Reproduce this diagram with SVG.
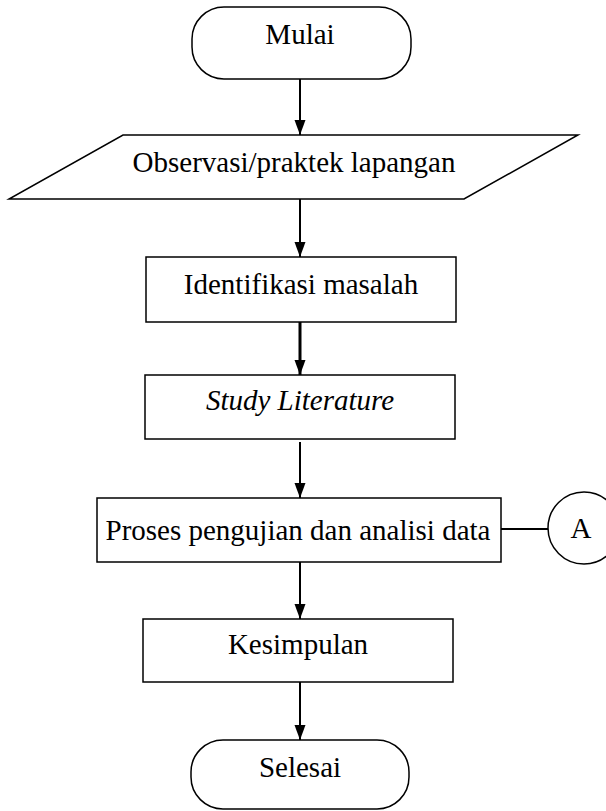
<svg xmlns="http://www.w3.org/2000/svg" width="606" height="811" viewBox="0 0 606 811">
<style>
.shape{fill:#fff;stroke:#000;stroke-width:1.5}
.lbl{font-family:"Liberation Serif","Times New Roman",serif;font-size:29px;fill:#000;text-anchor:middle}
.conn{stroke:#000;stroke-width:2;fill:none}
</style>
<defs>
<marker id="arr" markerUnits="userSpaceOnUse" markerWidth="12" markerHeight="16" refX="6" refY="15" orient="auto-start-reverse" viewBox="0 0 12 16">
<path d="M0,0 L12,0 L6,15 Z" fill="#000" transform="rotate(0)"/>
</marker>
<marker id="arrd" markerUnits="userSpaceOnUse" markerWidth="12" markerHeight="16" refX="6" refY="15" viewBox="0 0 12 16">
<path d="M0.5,0 L11.5,0 L6,15 Z" fill="#000"/>
</marker>
</defs>
<rect width="606" height="811" fill="#fff"/>
<g id="connectors">
<line class="conn" x1="300" y1="79" x2="300" y2="135" marker-end="url(#arrd)"/>
<line class="conn" x1="300" y1="199" x2="300" y2="257" marker-end="url(#arrd)"/>
<line class="conn" x1="300" y1="322" x2="300" y2="375" marker-end="url(#arrd)" style="stroke-width:3"/>
<line class="conn" x1="300" y1="442" x2="300" y2="498" marker-end="url(#arrd)"/>
<line class="conn" x1="300" y1="562" x2="300" y2="619" marker-end="url(#arrd)"/>
<line class="conn" x1="300" y1="682" x2="300" y2="740" marker-end="url(#arrd)"/>
<line class="conn" x1="501" y1="529" x2="548" y2="529"/>
</g>
<g id="mulai">
<rect class="shape" x="192" y="7" width="219" height="72" rx="32" ry="32"/>
<text class="lbl" x="300" y="44">Mulai</text>
</g>
<g id="observasi">
<polygon class="shape" points="123,135 578,135 464,199 9,199"/>
<text class="lbl" x="294" y="172">Observasi/praktek lapangan</text>
</g>
<g id="identifikasi">
<rect class="shape" x="146" y="257" width="310" height="65"/>
<text class="lbl" x="301" y="294">Identifikasi masalah</text>
</g>
<g id="study">
<rect class="shape" x="145" y="375" width="310" height="64"/>
<text class="lbl" x="300" y="410" font-style="italic">Study Literature</text>
</g>
<g id="proses">
<rect class="shape" x="97" y="498" width="404" height="64"/>
<text class="lbl" x="298" y="540">Proses pengujian dan analisi data</text>
</g>
<g id="konektorA">
<ellipse class="shape" cx="584" cy="528" rx="36" ry="36"/>
<text class="lbl" x="581" y="538">A</text>
</g>
<g id="kesimpulan">
<rect class="shape" x="143" y="619" width="310" height="63"/>
<text class="lbl" x="298" y="654">Kesimpulan</text>
</g>
<g id="selesai">
<rect class="shape" x="191" y="740" width="218" height="69" rx="32" ry="32"/>
<text class="lbl" x="300" y="777">Selesai</text>
</g>
</svg>
